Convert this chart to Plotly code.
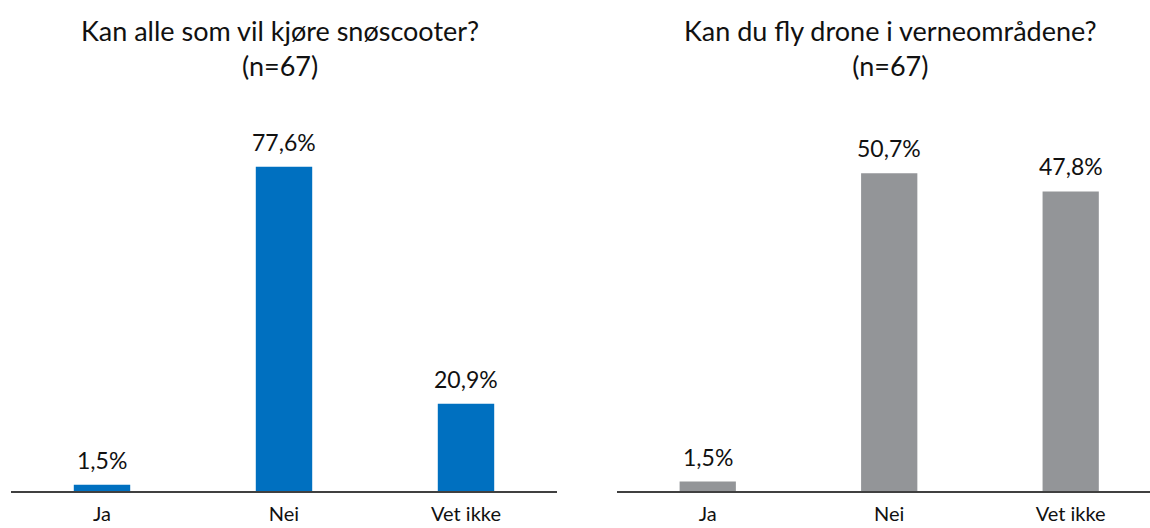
import plotly.graph_objects as go

# Survey answers, share of respondents in percent
categories = ["Ja", "Nei", "Vet ikke"]
snoscooter_values = [1.5, 77.6, 20.9]
drone_values = [1.5, 50.7, 47.8]
titles = [
    "Kan alle som vil kjøre snøscooter?<br>(n=67)",
    "Kan du fly drone i verneområdene?<br>(n=67)",
]

FONT = "Lato"
TEXT_COLOR = "#111111"
BLUE = "#0070C0"
GREY = "#939598"


def pct(v):
    return f"{v:.1f}".replace(".", ",") + "%"


fig = go.Figure()

panels = [
    (snoscooter_values, BLUE, "x", "y"),
    (drone_values, GREY, "x2", "y2"),
]
for values, color, xa, ya in panels:
    fig.add_trace(go.Bar(
        x=categories, y=values, marker_color=color, marker_line_width=0,
        width=0.31, xaxis=xa, yaxis=ya, showlegend=False, hoverinfo="skip",
    ))
    # value labels above each bar
    for cat, v in zip(categories, values):
        fig.add_annotation(
            x=cat, y=v, xref=xa, yref=ya, text=pct(v), showarrow=False,
            yanchor="bottom", yshift=9,
            font=dict(family=FONT, size=23, color=TEXT_COLOR),
        )

axis_common = dict(
    showgrid=False, zeroline=False, showline=True, linecolor="#404040",
    linewidth=2, ticks="", ticklabelstandoff=4, automargin=False,
    tickfont=dict(family=FONT, size=20, color=TEXT_COLOR),
    fixedrange=True,
)
yaxis_common = dict(showgrid=False, zeroline=False, showline=False,
                    showticklabels=False, fixedrange=True, automargin=False)

W, H = 1150, 528
left_dom = [11 / W, 557 / W]
right_dom = [617 / W, 1.0]

fig.update_layout(
    width=W, height=H,
    margin=dict(l=0, r=0, t=115, b=37, autoexpand=False),
    paper_bgcolor="white", plot_bgcolor="white",
    xaxis=dict(domain=left_dom, range=[-0.5, 2.5], anchor="y", **axis_common),
    yaxis=dict(domain=[0, 1], range=[0, 90], anchor="x", **yaxis_common),
    xaxis2=dict(domain=right_dom, range=[-0.5, 2.437], anchor="y2", **axis_common),
    yaxis2=dict(domain=[0, 1], range=[0, 60], anchor="x2", **yaxis_common),
)

# panel titles, centred over each chart
for title, cx_px in zip(titles, [280, 890]):
    fig.add_annotation(
        x=cx_px / W, y=1 + (115 - 12) / 376, xref="paper", yref="paper",
        text=title, showarrow=False, xanchor="center", yanchor="top",
        font=dict(family=FONT, size=27, color=TEXT_COLOR),
    )

fig.write_html("out.html")
